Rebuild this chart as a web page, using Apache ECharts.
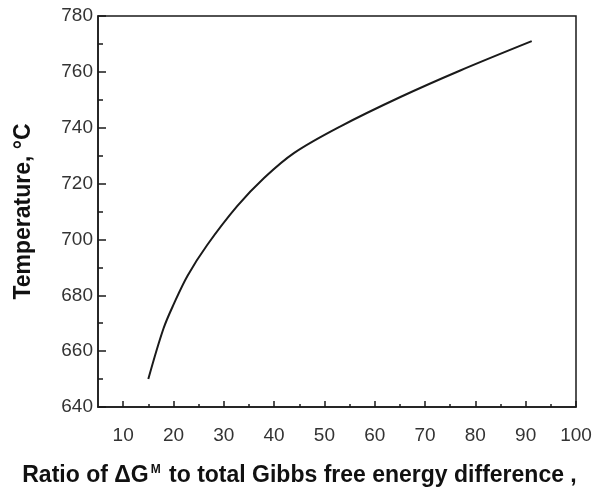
<!DOCTYPE html>
<html>
<head>
<meta charset="utf-8">
<script src="https://cdn.jsdelivr.net/npm/echarts@6/dist/echarts.min.js"></script>
<style>
  html, body { margin: 0; padding: 0; background: #fff; }
  #main { width: 599px; height: 496px; }
</style>
</head>
<body>
<div id="main"></div>
<script>
// ratio (%) vs temperature (°C)
const ratio = [15.0, 18.0, 20.1, 22.8, 26.7, 32.7, 38.0, 44.0, 53.2, 65.1, 77.0, 91.2];
const temperature = [650, 668, 677, 687, 698, 712, 722, 731, 740.5, 751, 760.5, 771];
const xMajorTicks = [10, 20, 30, 40, 50, 60, 70, 80, 90, 100];
const xMinorTicks = [15, 25, 35, 45, 55, 65, 75, 85, 95];

const chart = echarts.init(document.getElementById('main'));

const ink = '#1a1a1a';
const labelFont = { fontFamily: 'Liberation Sans, Arial, sans-serif', fontSize: 19, color: '#333' };

chart.setOption({
  animation: false,
  grid: {
    left: 98, top: 16, right: 23, bottom: 89,
    show: true, borderColor: ink, borderWidth: 1.5, backgroundColor: 'transparent'
  },
  xAxis: [
    {
      type: 'value', min: 5, max: 100,
      axisLine: { lineStyle: { color: ink, width: 1.5 } },
      axisTick: { inside: true, length: 6, customValues: xMajorTicks, lineStyle: { color: ink, width: 1.5 } },
      axisLabel: Object.assign({ customValues: xMajorTicks, margin: 19 }, labelFont),
      splitLine: { show: false }
    },
    {
      type: 'value', min: 5, max: 100, position: 'bottom',
      axisLine: { show: false },
      axisTick: { inside: true, length: 3, customValues: xMinorTicks, lineStyle: { color: ink, width: 1.5 } },
      axisLabel: { show: false },
      splitLine: { show: false }
    }
  ],
  yAxis: {
    type: 'value', min: 640, max: 780, interval: 20,
    name: 'Temperature, °C',
    nameLocation: 'middle', nameGap: 63, nameRotate: 90,
    nameTextStyle: { fontFamily: 'Liberation Sans, Arial, sans-serif', fontSize: 23, fontWeight: 'bold', color: '#111' },
    axisLine: { show: true, lineStyle: { color: ink, width: 1.5 } },
    axisTick: { inside: true, length: 8, lineStyle: { color: ink, width: 1.5 } },
    minorTick: { show: true, splitNumber: 2, length: 5, lineStyle: { color: ink, width: 1.5 } },
    axisLabel: Object.assign({ margin: 5 }, labelFont),
    splitLine: { show: false }
  },
  title: {
    text: 'Ratio of ΔG{sup|M} to total Gibbs free energy difference ,',
    left: 'center', top: 459,
    textStyle: {
      fontFamily: 'Liberation Sans, Arial, sans-serif', fontSize: 23, fontWeight: 'bold', color: '#111',
      rich: {
        sup: { fontSize: 12, fontWeight: 'bold', verticalAlign: 'top', padding: [0, 2, 10, 2], color: '#111' }
      }
    }
  },
  series: [{
    type: 'line',
    data: ratio.map((r, i) => [r, temperature[i]]),
    smooth: 0.35,
    showSymbol: false,
    lineStyle: { color: ink, width: 2 }
  }]
});
</script>
</body>
</html>
